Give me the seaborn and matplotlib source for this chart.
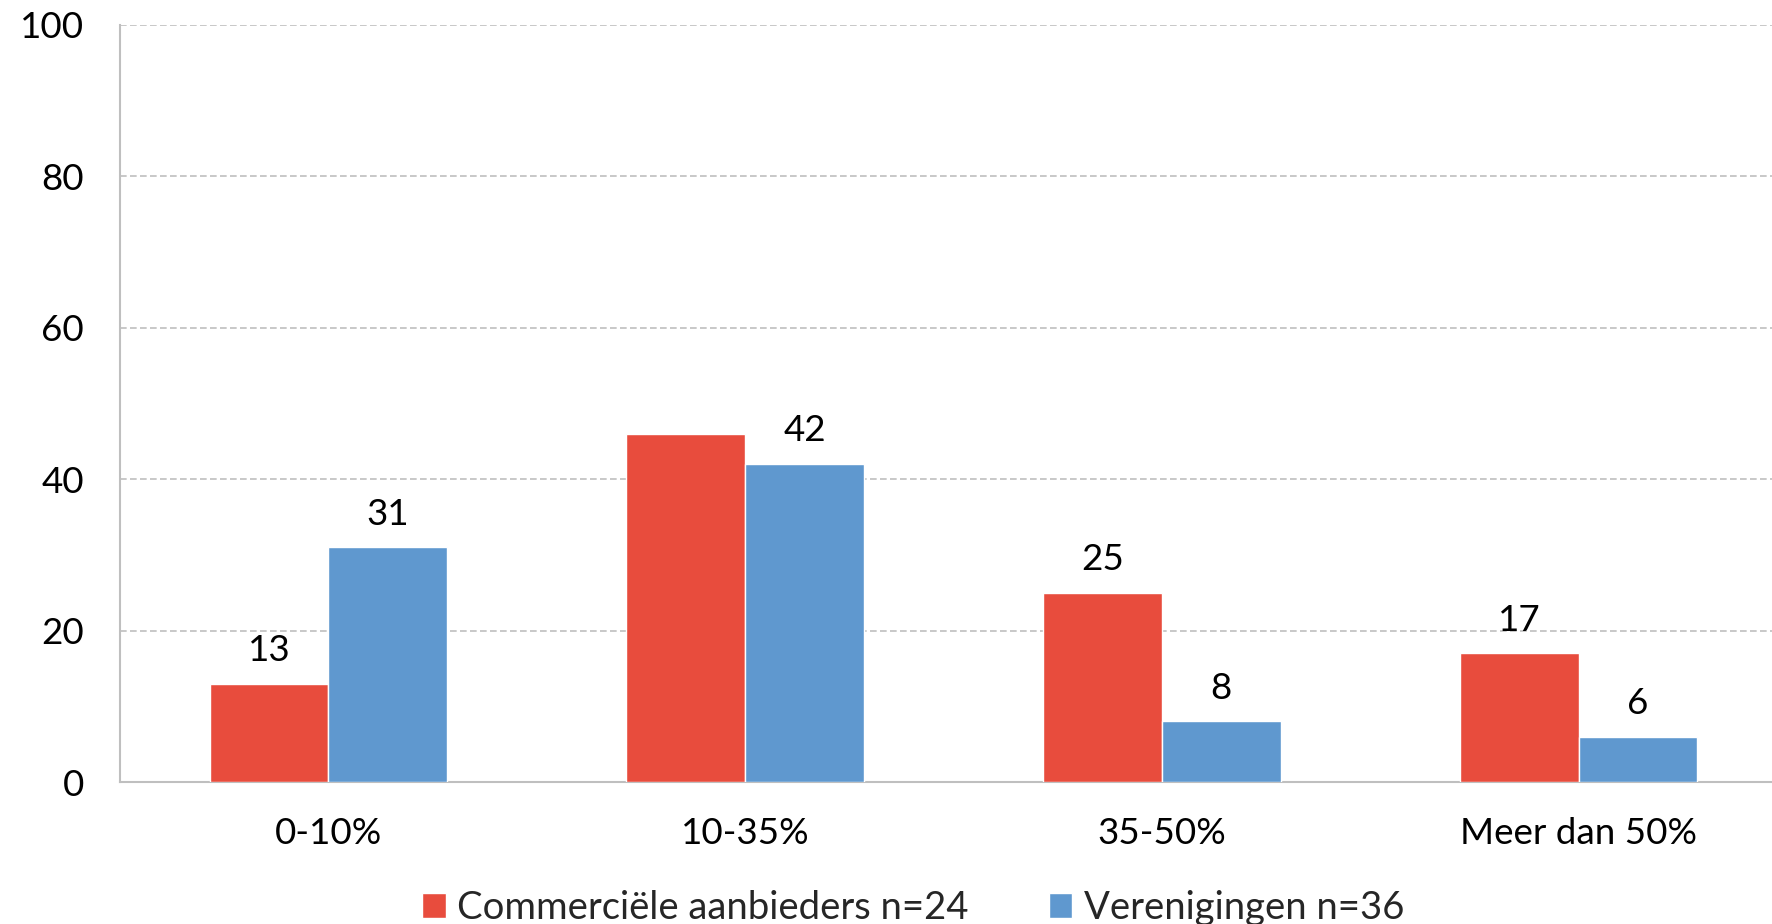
import matplotlib
matplotlib.use("Agg")
import matplotlib.pyplot as plt
import pandas as pd
import seaborn as sns

categories = ["0-10%", "10-35%", "35-50%", "Meer dan 50%"]
series_names = ["Commerciële aanbieders n=24", "Verenigingen n=36"]
commercieel = [13, 46, 25, 17]
verenigingen = [31, 42, 8, 6]
# the reference shows no label on the red 10-35% bar
commercieel_labels = ["13", "", "25", "17"]
verenigingen_labels = ["31", "42", "8", "6"]
colors = ["#E84C3D", "#5F98CF"]

df = pd.DataFrame({
    "cat": categories * 2,
    "serie": [series_names[0]] * 4 + [series_names[1]] * 4,
    "val": commercieel + verenigingen,
})

sns.set_style("white")
plt.rcParams["font.family"] = ["Lato", "DejaVu Sans"]
FS = 26.5

W, H = 1772, 924
fig = plt.figure(figsize=(W / 100, H / 100), dpi=100)
# the plot area runs a little past the right edge, as in the reference
ax = fig.add_axes([120 / W, 1 - 782 / H, 1667 / W, (782 - 25) / H])

sns.barplot(data=df, x="cat", y="val", hue="serie", palette=colors,
            width=0.57, saturation=1, ax=ax, legend=True, zorder=3)

for cont, labs in zip(ax.containers, [commercieel_labels, verenigingen_labels]):
    ax.bar_label(cont, labels=labs, padding=12, fontsize=FS, color="black")

ax.set_ylim(0, 100)
ax.set_yticks(range(0, 101, 20))
ax.set_xlim(-0.5, 3.5)
ax.set_xlabel("")
ax.set_ylabel("")
ax.tick_params(axis="both", labelsize=FS, length=0, colors="black")
ax.tick_params(axis="x", pad=25)
ax.tick_params(axis="y", pad=26)
ax.grid(axis="y", linestyle=(0, (4, 2)), color="#BFBFBF", linewidth=1.2, zorder=0)
ax.set_axisbelow(True)
for s in ["top", "right"]:
    ax.spines[s].set_visible(False)
for s in ["left", "bottom"]:
    ax.spines[s].set_color("#BFBFBF")
    ax.spines[s].set_linewidth(1.5)

ax.legend(loc="center", bbox_to_anchor=(913 / W, 1 - 908 / H),
          bbox_transform=fig.transFigure, ncol=2, frameon=False, fontsize=27.5,
          handlelength=0.62, handleheight=0.62, handletextpad=0.3,
          columnspacing=2.1, borderaxespad=0, borderpad=0)

fig.savefig("out.png", dpi=100)
